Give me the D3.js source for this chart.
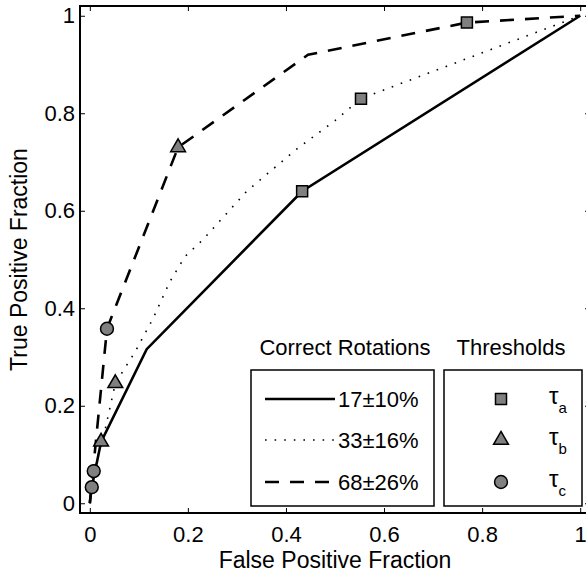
<!DOCTYPE html>
<html>
<head>
<meta charset="utf-8">
<script src="https://cdn.jsdelivr.net/npm/d3@7"></script>
<style>
    body { margin: 0; background: #fff; }
    svg { display: block; font-family: 'Liberation Sans', Arial, Helvetica, sans-serif; }
</style>
</head>
<body>
<svg></svg>
<script>

// ROC curves, one per rotation group
let fpfSolid = [0, 0.004, 0.023, 0.116, 0.433, 1]
let tpfSolid = [0, 0.033, 0.126, 0.316, 0.64, 1]

let fpfDotted = [0, 0.008, 0.031, 0.052, 0.092, 0.129, 0.163, 0.194, 0.23, 0.32, 0.42, 0.5, 0.553, 1]
let tpfDotted = [0, 0.066, 0.15, 0.246, 0.31, 0.379, 0.454, 0.506, 0.54, 0.64, 0.725, 0.785, 0.83, 1]

let fpfDashed = [0, 0.035, 0.18, 0.445, 0.769, 1]
let tpfDashed = [0, 0.358, 0.73, 0.92, 0.986, 1]

// threshold markers (solid, dotted, dashed)
let fpfTauA = [0.433, 0.553, 0.769]
let tpfTauA = [0.64, 0.83, 0.986]
let fpfTauB = [0.023, 0.052, 0.18]
let tpfTauB = [0.126, 0.246, 0.73]
let fpfTauC = [0.004, 0.008, 0.035]
let tpfTauC = [0.033, 0.066, 0.358]

let tickValues = [0, 0.2, 0.4, 0.6, 0.8, 1]
let groupLabels = ['17\u00b110%', '33\u00b116%', '68\u00b126%']
let thresholdLabels = ['a', 'b', 'c']

let width = 586
let height = 575
let gray = '#808080'

let svg = d3.select('svg')
svg.attr('width', width)
   .attr('height', height)

let xScale = d3.scaleLinear().domain([-0.02, 1.02]).range([80, 590])
let yScale = d3.scaleLinear().domain([-0.02, 1.02]).range([513, 6])

let fmt = d3.format('~g')

let drawAxes = () => {
    let xAxis = d3.axisBottom(xScale).tickValues(tickValues).tickFormat(fmt)
                  .tickSizeInner(-5).tickSizeOuter(0).tickPadding(13)
    let yAxis = d3.axisLeft(yScale).tickValues(tickValues).tickFormat(fmt)
                  .tickSizeInner(-5).tickSizeOuter(0).tickPadding(5)
    let xTop = d3.axisTop(xScale).tickValues(tickValues).tickFormat('')
                 .tickSizeInner(-5).tickSizeOuter(0)
    let yRight = d3.axisRight(yScale).tickValues(tickValues).tickFormat('')
                   .tickSizeInner(-5).tickSizeOuter(0)

    let gx = svg.append('g').attr('transform', 'translate(0,' + yScale(-0.02) + ')').call(xAxis)
    let gy = svg.append('g').attr('transform', 'translate(' + xScale(-0.02) + ',0)').call(yAxis)
    let gt = svg.append('g').attr('transform', 'translate(0,' + yScale(1.02) + ')').call(xTop)
    let gr = svg.append('g').attr('transform', 'translate(' + xScale(1.02) + ',0)').call(yRight)

    ;[gx, gy, gt, gr].forEach(g => {
        g.select('.domain').remove()
        g.selectAll('line').attr('stroke', '#000').attr('stroke-width', 1)
        g.selectAll('text').attr('fill', '#000').style('font-size', '22px')
            .style('font-family', "'Liberation Sans', Arial, sans-serif")
    })

    svg.append('rect')
       .attr('x', xScale(-0.02))
       .attr('y', yScale(1.02))
       .attr('width', xScale(1.02) - xScale(-0.02))
       .attr('height', yScale(-0.02) - yScale(1.02))
       .attr('fill', 'none')
       .attr('stroke', '#000')
       .attr('stroke-width', 2)

    svg.append('text')
       .attr('x', (xScale(-0.02) + xScale(1.02)) / 2)
       .attr('y', 568)
       .attr('text-anchor', 'middle')
       .style('font-size', '23px')
       .text('False Positive Fraction')

    svg.append('text')
       .attr('transform', 'translate(27,' + yScale(0.5) + ') rotate(-90)')
       .attr('text-anchor', 'middle')
       .style('font-size', '23px')
       .text('True Positive Fraction')
}

let lineGen = d3.line().x(d => xScale(d[0])).y(d => yScale(d[1]))

let styles = [
    { dash: null, width: 2.6 },
    { dash: '1.6,8', width: 1.6 },
    { dash: '14,11', width: 2.6 }
]

let drawCurves = () => {
    let curves = [
        d3.zip(fpfSolid, tpfSolid),
        d3.zip(fpfDotted, tpfDotted),
        d3.zip(fpfDashed, tpfDashed)
    ]
    curves.forEach((pts, i) => {
        svg.append('path')
           .datum(pts)
           .attr('d', lineGen)
           .attr('fill', 'none')
           .attr('stroke', '#000')
           .attr('stroke-width', styles[i].width)
           .attr('stroke-dasharray', styles[i].dash)
    })
}

let symbols = [
    d3.symbol().type(d3.symbolSquare).size(121),
    d3.symbol().type(d3.symbolTriangle).size(95),
    d3.symbol().type(d3.symbolCircle).size(130)
]

let drawMarkers = () => {
    let sets = [
        d3.zip(fpfTauA, tpfTauA),
        d3.zip(fpfTauB, tpfTauB),
        d3.zip(fpfTauC, tpfTauC)
    ]
    sets.forEach((pts, i) => {
        svg.append('g')
           .selectAll('path')
           .data(pts)
           .enter()
           .append('path')
           .attr('d', symbols[i])
           .attr('transform', d => 'translate(' + xScale(d[0]) + ',' + yScale(d[1]) + ')')
           .attr('fill', gray)
           .attr('stroke', '#000')
           .attr('stroke-width', 1.5)
    })
}

let drawLegend = () => {
    let rows = [399, 440, 482]
    let lg = svg.append('g').style('font-size', '22px')

    lg.append('text').attr('x', 345).attr('y', 355).attr('text-anchor', 'middle').text('Correct Rotations')
    lg.append('text').attr('x', 511).attr('y', 355).attr('text-anchor', 'middle').text('Thresholds')

    lg.append('rect').attr('x', 251).attr('y', 370).attr('width', 183).attr('height', 136)
      .attr('fill', '#fff').attr('stroke', '#000').attr('stroke-width', 1.5)
    lg.append('rect').attr('x', 444).attr('y', 370).attr('width', 138).attr('height', 136)
      .attr('fill', '#fff').attr('stroke', '#000').attr('stroke-width', 1.5)

    groupLabels.forEach((label, i) => {
        lg.append('line')
          .attr('x1', 265).attr('x2', 335)
          .attr('y1', rows[i]).attr('y2', rows[i])
          .attr('stroke', '#000')
          .attr('stroke-width', styles[i].width)
          .attr('stroke-dasharray', styles[i].dash)
        lg.append('text').attr('x', 338).attr('y', rows[i] + 7.5).text(label)
    })

    thresholdLabels.forEach((sub, i) => {
        lg.append('path')
          .attr('d', symbols[i])
          .attr('transform', 'translate(501,' + rows[i] + ')')
          .attr('fill', gray)
          .attr('stroke', '#000')
          .attr('stroke-width', 1.5)
        let t = lg.append('text').attr('x', 549).attr('y', rows[i] + 5)
        t.append('tspan').style('font-size', '24px').text('\u03c4')
        t.append('tspan').attr('dy', 9).style('font-size', '15px').text(sub)
    })
}

drawAxes()
drawCurves()
drawMarkers()
drawLegend()

</script>
</body>
</html>
